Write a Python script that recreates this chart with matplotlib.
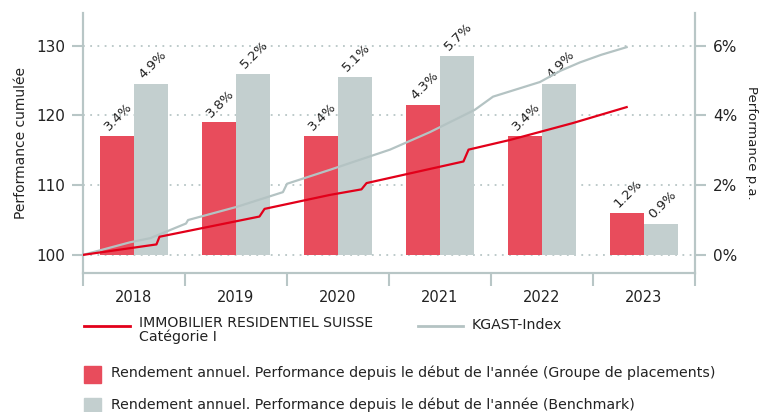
import matplotlib
matplotlib.use("Agg")
import matplotlib.pyplot as plt
from matplotlib.lines import Line2D
from matplotlib.patches import Rectangle
import numpy as np

plt.rcParams['font.family'] = ['DejaVu Sans']

#-------------------------------------------
#              data
#-------------------------------------------
years = [2018, 2019, 2020, 2021, 2022, 2023]
perf_fund = [3.4, 3.8, 3.4, 4.3, 3.4, 1.2]      # % p.a. (Groupe de placements)
perf_bench = [4.9, 5.2, 5.1, 5.7, 4.9, 0.9]     # % p.a. (Benchmark)

# cumulated performance (time in fractional years)
fund_t = [2018.00, 2018.72, 2018.75, 2019.73, 2019.78, 2020.42, 2020.73,
          2020.78, 2021.73, 2021.78, 2022.19, 2022.80, 2023.33]
fund_v = [100.0, 101.5, 102.6, 105.5, 106.6, 108.6, 109.4,
          110.3, 113.4, 115.1, 116.5, 118.9, 121.2]
bench_t = [2018.00, 2018.46, 2018.66, 2019.01, 2019.03, 2019.51, 2019.96,
           2020.00, 2020.42, 2021.01, 2021.40, 2021.84, 2022.02, 2022.48,
           2022.68, 2022.87, 2023.08, 2023.33]
bench_v = [100.0, 101.8, 102.4, 104.5, 105.0, 106.9, 109.0,
           110.2, 112.2, 115.1, 117.6, 120.8, 122.7, 124.8,
           126.4, 127.6, 128.7, 129.8]

RED_BAR = '#e84c5c'
GREY_BAR = '#c3cfcf'
RED_LINE = '#e2001a'
GREY_LINE = '#b4c3c3'
AXIS_C = '#b8c6c6'
TXT = '#222222'

fig = plt.figure(figsize=(7.65, 4.12), dpi=100)
ax = fig.add_axes([83 / 765, 1 - 273 / 412, 612 / 765, 260 / 412])
ax2 = ax.twinx()

# bars on the percent axis (drawn first, below the lines)
centers = np.array(years) + 0.5
w = 1 / 3
ax.bar(centers - w / 2, perf_fund, width=w, color=RED_BAR, zorder=2)
ax.bar(centers + w / 2, perf_bench, width=w, color=GREY_BAR, zorder=2)
for c, v in zip(centers, perf_fund):
    ax.annotate('%.1f%%' % v, (c - w, v), xytext=(8, 2), textcoords='offset points',
                rotation=45, rotation_mode='anchor', ha='left', va='bottom',
                fontsize=9.5, color=TXT)
for c, v in zip(centers, perf_bench):
    ax.annotate('%.1f%%' % v, (c, v), xytext=(8, 2), textcoords='offset points',
                rotation=45, rotation_mode='anchor', ha='left', va='bottom',
                fontsize=9.5, color=TXT)

ax.set_ylim(-0.52, 6.94)
ax.set_yticks([0, 2, 4, 6])
ax.set_yticklabels(['0%', '2%', '4%', '6%'])
ax.yaxis.tick_right()
ax.yaxis.set_label_position('right')
ax.set_ylabel('Performance p.a.', rotation=270, labelpad=15, fontsize=9.5, color=TXT)
ax.set_axisbelow(True)
ax.grid(axis='y', linestyle=(0, (1, 3)), color=AXIS_C, linewidth=1.3)

# cumulated lines
ax2.plot(bench_t, bench_v, color=GREY_LINE, lw=1.6, zorder=3)
ax2.plot(fund_t, fund_v, color=RED_LINE, lw=1.6, zorder=4)
ax2.set_ylim(97.4, 134.7)
ax2.set_yticks([100, 110, 120, 130])
ax2.yaxis.tick_left()
ax2.yaxis.set_label_position('left')
ax2.set_ylabel('Performance cumulée', fontsize=10, color=TXT, labelpad=6)

# x axis: year boundaries as ticks, labels centred
ax.set_xlim(2018, 2024)
ax.set_xticks(range(2018, 2025))
ax.set_xticklabels([])
ax.set_xticks(centers, minor=True)
ax.set_xticklabels([str(y) for y in years], minor=True, fontsize=10.5, color=TXT)
ax.tick_params(axis='x', which='major', length=9, width=1.5, color=AXIS_C, direction='out')
ax.tick_params(axis='x', which='minor', length=0, pad=12)

for a in (ax, ax2):
    a.spines['top'].set_visible(False)
    for s in ('left', 'right', 'bottom'):
        a.spines[s].set_color(AXIS_C)
        a.spines[s].set_linewidth(1.5)
    a.tick_params(axis='y', length=8, width=1.5, color=AXIS_C, labelsize=11,
                  labelcolor=TXT, pad=5)

# legend drawn by hand below the plot
def fx(px):
    return px / 765

def fy(py):
    return 1 - py / 412

LEG_FS = 10.2
fig.add_artist(Line2D([fx(84), fx(130)], [fy(326), fy(326)], color=RED_LINE, lw=2))
fig.text(fx(139), fy(316), 'IMMOBILIER RESIDENTIEL SUISSE\nCatégorie I', fontsize=LEG_FS,
         color=TXT, va='top', ha='left', linespacing=1.0)
fig.add_artist(Line2D([fx(418), fx(463)], [fy(326), fy(326)], color=GREY_LINE, lw=2))
fig.text(fx(472), fy(325), 'KGAST-Index', fontsize=LEG_FS, color=TXT, va='center', ha='left')

fig.add_artist(Rectangle((fx(84), fy(383)), fx(17), 17 / 412, color=RED_BAR,
                         transform=fig.transFigure))
fig.text(fx(111), fy(373), "Rendement annuel. Performance depuis le début de l'année (Groupe de placements)",
         fontsize=LEG_FS, color=TXT, va='center', ha='left')
fig.add_artist(Rectangle((fx(84), fy(415)), fx(17), 17 / 412, color=GREY_BAR,
                         transform=fig.transFigure))
fig.text(fx(111), fy(405), "Rendement annuel. Performance depuis le début de l'année (Benchmark)",
         fontsize=LEG_FS, color=TXT, va='center', ha='left')

fig.savefig('out.png', dpi=100)
